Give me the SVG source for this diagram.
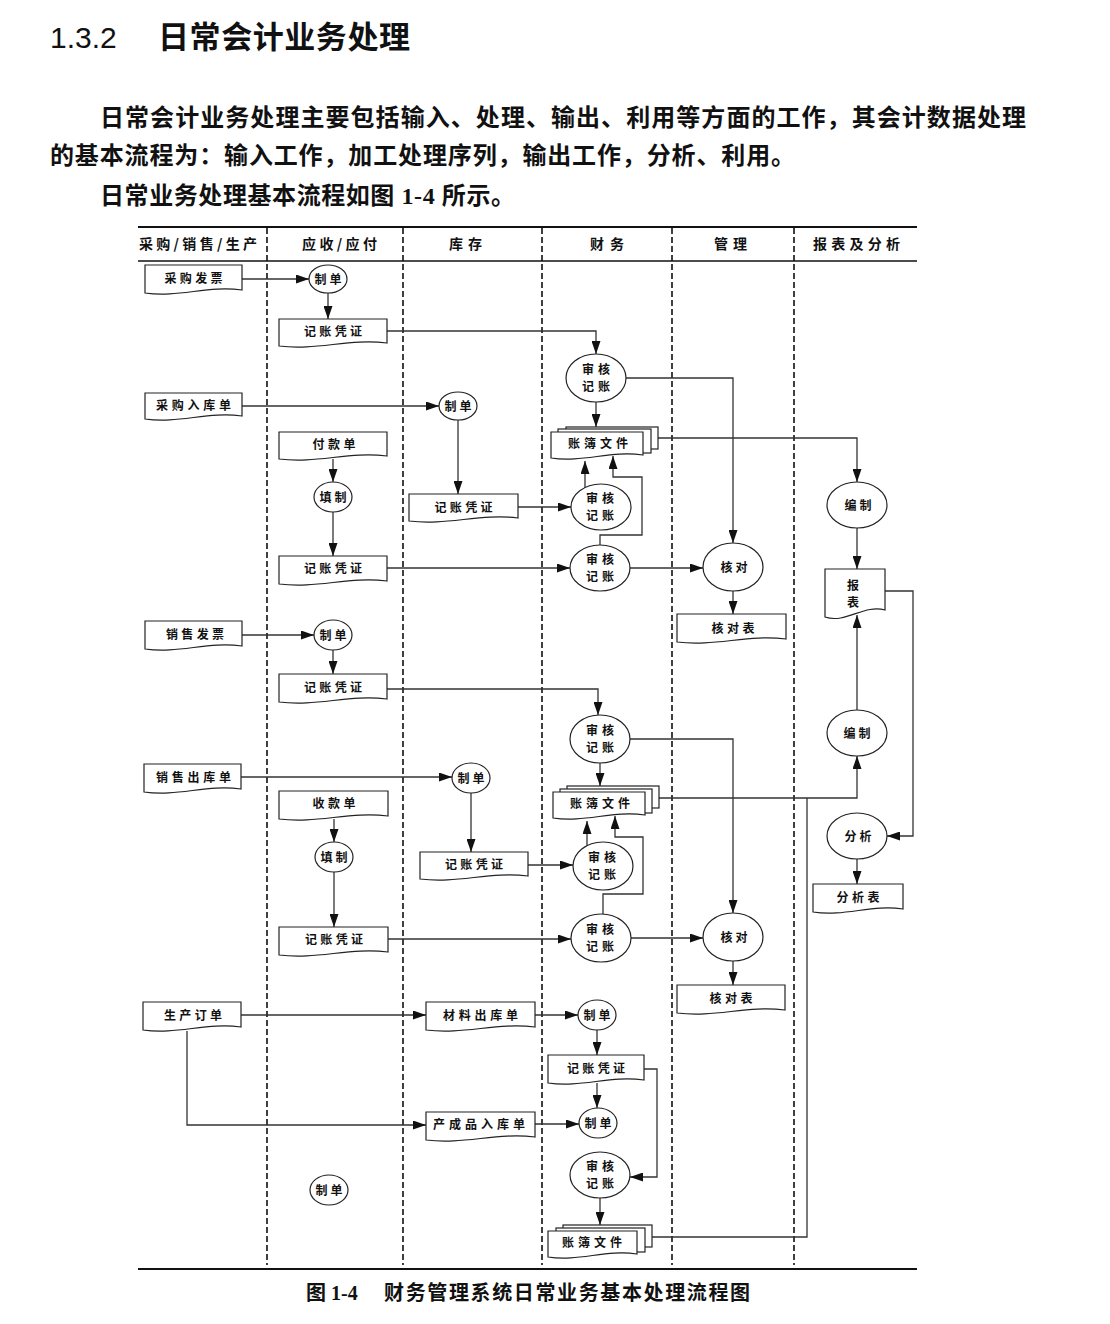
<svg xmlns="http://www.w3.org/2000/svg" width="1110" height="1324" viewBox="0 0 1110 1324">
<defs>
<style>
.doc{fill:#fff;stroke:#222;stroke-width:1.2}
.el{fill:#fff;stroke:#222;stroke-width:1.2}
.ln{fill:none;stroke:#333;stroke-width:1.3}
.ar{marker-end:url(#ah)}
.dash{stroke:#111;stroke-width:1.6;stroke-dasharray:6 3}
.t{font-family:"Noto Sans CJK SC","Liberation Serif",serif;font-size:12px;font-weight:bold;fill:#111;text-anchor:middle}
.h{font-family:"Noto Sans CJK SC","Liberation Serif",serif;font-size:14px;font-weight:bold;fill:#111}
.p{font-family:"Liberation Serif","Noto Sans CJK SC",serif;font-size:24px;font-weight:bold;fill:#111}
</style>
<marker id="ah" viewBox="0 0 13 9" refX="13" refY="4.5" markerWidth="13" markerHeight="9" markerUnits="userSpaceOnUse" orient="auto"><path d="M0,0 L13,4.5 L0,9 Z" fill="#111"/></marker>
</defs>
<rect width="1110" height="1324" fill="#fff"/>

<g id="title">
<text x="50" y="48" style="font-family:'Liberation Sans',Arial,sans-serif;font-size:30px;fill:#111">1.3.2</text>
<text x="158" y="48" textLength="252" style="font-family:'Noto Sans CJK SC',sans-serif;font-size:31px;font-weight:bold;fill:#111">日常会计业务处理</text>
</g>
<g id="paragraph">
<text x="100" y="126" class="p" textLength="926">日常会计业务处理主要包括输入、处理、输出、利用等方面的工作，其会计数据处理</text>
<text x="50" y="164" class="p" textLength="745">的基本流程为：输入工作，加工处理序列，输出工作，分析、利用。</text>
<text x="100" y="204" class="p" textLength="415">日常业务处理基本流程如图 1-4 所示。</text>
</g>

<g id="frame">
<line x1="138" y1="227" x2="917" y2="227" stroke="#111" stroke-width="2"/>
<line x1="138" y1="261" x2="917" y2="261" stroke="#111" stroke-width="1.5"/>
<line x1="138" y1="1269" x2="917" y2="1269" stroke="#111" stroke-width="2"/>
<line x1="267" y1="228" x2="267" y2="1265" class="dash"/>
<line x1="403" y1="228" x2="403" y2="1265" class="dash"/>
<line x1="542" y1="228" x2="542" y2="1265" class="dash"/>
<line x1="672" y1="228" x2="672" y2="1265" class="dash"/>
<line x1="794" y1="228" x2="794" y2="1265" class="dash"/>
<text x="139" y="249" class="h" textLength="118">采购/销售/生产</text>
<text x="302" y="249" class="h" textLength="75">应收/应付</text>
<text x="449" y="249" class="h" textLength="33">库存</text>
<text x="590" y="249" class="h" textLength="34">财务</text>
<text x="714" y="249" class="h" textLength="33">管理</text>
<text x="813" y="249" class="h" textLength="87">报表及分析</text>
</g>

<g id="connectors">
<path class="ln ar" d="M242,279 H309"/>
<path class="ln ar" d="M328,293 V319"/>
<path class="ln ar" d="M387,331 H596 V354"/>
<path class="ln ar" d="M626,378 H733 V543"/>
<path class="ln ar" d="M596,402 V427"/>
<path class="ln ar" d="M242,406 H439"/>
<path class="ln ar" d="M458,420 V494"/>
<path class="ln ar" d="M518,507 H571"/>
<path class="ln ar" d="M585,488 V461"/>
<path class="ln ar" d="M600,545 V535 H642 V477 H613 V456"/>
<path class="ln ar" d="M333,459 V482"/>
<path class="ln ar" d="M333,512 V556"/>
<path class="ln ar" d="M387,568 H570"/>
<path class="ln ar" d="M630,568 H703"/>
<path class="ln ar" d="M733,591 V614"/>
<path class="ln ar" d="M658,438 H857 V482"/>
<path class="ln ar" d="M857,528 V569"/>
<path class="ln ar" d="M885,591 H913 V836 H887"/>
<path class="ln ar" d="M857,710 V615"/>
<path class="ln ar" d="M658,798 H857 V756"/>
<path class="ln" d="M652,1237 H807 V798"/>
<path class="ln ar" d="M857,859 V884"/>
<path class="ln ar" d="M242,635 H314"/>
<path class="ln ar" d="M333,650 V674"/>
<path class="ln ar" d="M387,689 H598 V715"/>
<path class="ln ar" d="M630,739 H733 V913"/>
<path class="ln ar" d="M600,763 V786"/>
<path class="ln ar" d="M241,777 H452"/>
<path class="ln ar" d="M471,793 V852"/>
<path class="ln ar" d="M528,865 H573"/>
<path class="ln ar" d="M587,846 V821"/>
<path class="ln ar" d="M603,914 V894 H643 V837 H615 V816"/>
<path class="ln ar" d="M334,819 V842"/>
<path class="ln ar" d="M334,872 V927"/>
<path class="ln ar" d="M388,939 H571"/>
<path class="ln ar" d="M631,938 H703"/>
<path class="ln ar" d="M733,961 V985"/>
<path class="ln ar" d="M241,1015 H426"/>
<path class="ln ar" d="M187,1031 V1125 H426"/>
<path class="ln ar" d="M535,1015 H578"/>
<path class="ln ar" d="M597,1030 V1055"/>
<path class="ln ar" d="M597,1083 V1108"/>
<path class="ln ar" d="M535,1124 H579"/>
<path class="ln ar" d="M644,1069 H657 V1177 H630"/>
<path class="ln ar" d="M600,1198 V1225"/>
</g>

<g id="n-cgfp"><path class="doc" d="M145,265 H242 V290 C208,285 179,298 145,293 Z"/><text x="193.5" y="283" class="t" textLength="58">采购发票</text></g>
<g id="n-zd1"><ellipse class="el" cx="328" cy="279" rx="19" ry="14"/><text x="328" y="283.5" class="t" textLength="27">制单</text></g>
<g id="n-jzpz1"><path class="doc" d="M279,319 H387 V343 C349,338 317,351 279,346 Z"/><text x="333" y="335.5" class="t" textLength="58">记账凭证</text></g>
<g id="n-shjz1"><ellipse class="el" cx="596" cy="378" rx="30" ry="24"/><text x="596" y="374" class="t" textLength="28">审核</text><text x="596" y="391" class="t" textLength="28">记账</text></g>
<g id="n-cgrkd"><path class="doc" d="M145,393 H242 V416 C208,411 179,424 145,419 Z"/><text x="193.5" y="409.5" class="t" textLength="75">采购入库单</text></g>
<g id="n-zd2"><ellipse class="el" cx="458" cy="406" rx="19" ry="14"/><text x="458" y="410.5" class="t" textLength="27">制单</text></g>
<g id="n-zbwj1"><rect class="doc" x="566" y="427" width="92" height="22"/><rect class="doc" x="558" y="429" width="93" height="24"/><path class="doc" d="M551,432 H643 V455 C611,450 583,463 551,458 Z"/><text x="598" y="447.5" class="t" textLength="60">账簿文件</text></g>
<g id="n-fkd"><path class="doc" d="M279,432 H387 V456 C349,451 317,464 279,459 Z"/><text x="334" y="448.5" class="t" textLength="43">付款单</text></g>
<g id="n-tz1"><ellipse class="el" cx="333" cy="497" rx="19" ry="15"/><text x="333" y="501.5" class="t" textLength="27">填制</text></g>
<g id="n-jzpz2"><path class="doc" d="M409,494 H518 V518 C480,513 447,526 409,521 Z"/><text x="463.5" y="511.5" class="t" textLength="58">记账凭证</text></g>
<g id="n-shjz2"><ellipse class="el" cx="601" cy="507" rx="30" ry="23"/><text x="600" y="503" class="t" textLength="28">审核</text><text x="600" y="520" class="t" textLength="28">记账</text></g>
<g id="n-jzpz3"><path class="doc" d="M279,556 H387 V581 C349,576 317,589 279,584 Z"/><text x="333" y="572.5" class="t" textLength="58">记账凭证</text></g>
<g id="n-shjz3"><ellipse class="el" cx="600" cy="568" rx="30" ry="23"/><text x="600" y="564" class="t" textLength="28">审核</text><text x="600" y="581" class="t" textLength="28">记账</text></g>
<g id="n-hd1"><ellipse class="el" cx="733" cy="567" rx="30" ry="24"/><text x="734" y="571.5" class="t" textLength="27">核对</text></g>
<g id="n-hdb1"><path class="doc" d="M677,614 H786 V639 C748,634 715,647 677,642 Z"/><text x="733" y="632.5" class="t" textLength="43">核对表</text></g>
<g id="n-bz1"><ellipse class="el" cx="857" cy="505" rx="30" ry="23"/><text x="858" y="509.5" class="t" textLength="27">编制</text></g>
<g id="n-bb"><path class="doc" d="M825,569 H885 V610 C864,604 846,624 825,617 Z"/><text x="853" y="589.5" class="t">报</text><text x="853" y="606.5" class="t">表</text></g>
<g id="n-xsfp"><path class="doc" d="M145,621 H242 V646 C208,641 179,654 145,649 Z"/><text x="195" y="638.5" class="t" textLength="58">销售发票</text></g>
<g id="n-zd3"><ellipse class="el" cx="333" cy="635" rx="19" ry="15"/><text x="333" y="639.5" class="t" textLength="27">制单</text></g>
<g id="n-jzpz4"><path class="doc" d="M279,674 H387 V699 C349,694 317,707 279,702 Z"/><text x="333" y="691.5" class="t" textLength="58">记账凭证</text></g>
<g id="n-shjz4"><ellipse class="el" cx="600" cy="739" rx="30" ry="24"/><text x="600" y="735" class="t" textLength="28">审核</text><text x="600" y="752" class="t" textLength="28">记账</text></g>
<g id="n-bz2"><ellipse class="el" cx="857" cy="733" rx="30" ry="23"/><text x="857" y="737.5" class="t" textLength="27">编制</text></g>
<g id="n-xsckd"><path class="doc" d="M144,764 H241 V789 C207,784 178,797 144,792 Z"/><text x="193.5" y="781.5" class="t" textLength="75">销售出库单</text></g>
<g id="n-zd4"><ellipse class="el" cx="471" cy="778" rx="19" ry="15"/><text x="471" y="782.5" class="t" textLength="27">制单</text></g>
<g id="n-zbwj2"><rect class="doc" x="567" y="786" width="92" height="22"/><rect class="doc" x="560" y="789" width="92" height="24"/><path class="doc" d="M553,792 H645 V815 C613,810 585,823 553,818 Z"/><text x="600" y="807.5" class="t" textLength="60">账簿文件</text></g>
<g id="n-skd"><path class="doc" d="M279,791 H388 V816 C350,811 317,824 279,819 Z"/><text x="334" y="807.5" class="t" textLength="43">收款单</text></g>
<g id="n-fx"><ellipse class="el" cx="857" cy="836" rx="30" ry="23"/><text x="858" y="840.5" class="t" textLength="27">分析</text></g>
<g id="n-tz2"><ellipse class="el" cx="334" cy="857" rx="19" ry="15"/><text x="334" y="861.5" class="t" textLength="27">填制</text></g>
<g id="n-jzpz5"><path class="doc" d="M420,852 H528 V876 C490,871 458,884 420,879 Z"/><text x="474" y="868.5" class="t" textLength="58">记账凭证</text></g>
<g id="n-shjz5"><ellipse class="el" cx="603" cy="866" rx="30" ry="24"/><text x="602" y="862" class="t" textLength="28">审核</text><text x="602" y="879" class="t" textLength="28">记账</text></g>
<g id="n-fxb"><path class="doc" d="M813,884 H903 V909 C872,904 845,917 813,912 Z"/><text x="858" y="901.5" class="t" textLength="43">分析表</text></g>
<g id="n-jzpz6"><path class="doc" d="M279,927 H388 V952 C350,947 317,960 279,955 Z"/><text x="334" y="943.5" class="t" textLength="58">记账凭证</text></g>
<g id="n-shjz6"><ellipse class="el" cx="601" cy="938" rx="30" ry="24"/><text x="600" y="934" class="t" textLength="28">审核</text><text x="600" y="951" class="t" textLength="28">记账</text></g>
<g id="n-hd2"><ellipse class="el" cx="733" cy="937" rx="30" ry="24"/><text x="734" y="941.5" class="t" textLength="27">核对</text></g>
<g id="n-hdb2"><path class="doc" d="M677,985 H785 V1010 C747,1005 715,1018 677,1013 Z"/><text x="731" y="1002.5" class="t" textLength="43">核对表</text></g>
<g id="n-scdd"><path class="doc" d="M143,1002 H241 V1027 C207,1022 177,1035 143,1030 Z"/><text x="193" y="1019.5" class="t" textLength="58">生产订单</text></g>
<g id="n-clckd"><path class="doc" d="M426,1002 H535 V1027 C497,1022 464,1035 426,1030 Z"/><text x="480.5" y="1019.5" class="t" textLength="75">材料出库单</text></g>
<g id="n-zd5"><ellipse class="el" cx="597" cy="1015" rx="19" ry="15"/><text x="597" y="1019.5" class="t" textLength="27">制单</text></g>
<g id="n-jzpz7"><path class="doc" d="M548,1055 H644 V1080 C610,1075 582,1088 548,1083 Z"/><text x="596" y="1072.5" class="t" textLength="58">记账凭证</text></g>
<g id="n-ccprkd"><path class="doc" d="M426,1112 H535 V1137 C497,1132 464,1145 426,1140 Z"/><text x="479" y="1128.5" class="t" textLength="92">产成品入库单</text></g>
<g id="n-zd6"><ellipse class="el" cx="598" cy="1123" rx="19" ry="15"/><text x="598" y="1127.5" class="t" textLength="27">制单</text></g>
<g id="n-shjz7"><ellipse class="el" cx="600" cy="1175" rx="30" ry="23"/><text x="600" y="1171" class="t" textLength="28">审核</text><text x="600" y="1188" class="t" textLength="28">记账</text></g>
<g id="n-zd7"><ellipse class="el" cx="329" cy="1190" rx="19" ry="15"/><text x="329" y="1194.5" class="t" textLength="27">制单</text></g>
<g id="n-zbwj3"><rect class="doc" x="563" y="1225" width="89" height="22"/><rect class="doc" x="556" y="1228" width="89" height="24"/><path class="doc" d="M548,1231 H637 V1254 C606,1249 579,1262 548,1257 Z"/><text x="592" y="1246.5" class="t" textLength="60">账簿文件</text></g>

<g id="caption">
<text x="306" y="1300" style="font-family:'Liberation Serif','Noto Sans CJK SC',serif;font-size:20px;font-weight:bold;fill:#111">图 1-4</text>
<text x="384" y="1300" textLength="366" style="font-family:'Noto Sans CJK SC',serif;font-size:20px;font-weight:bold;fill:#111">财务管理系统日常业务基本处理流程图</text>
</g>
</svg>
